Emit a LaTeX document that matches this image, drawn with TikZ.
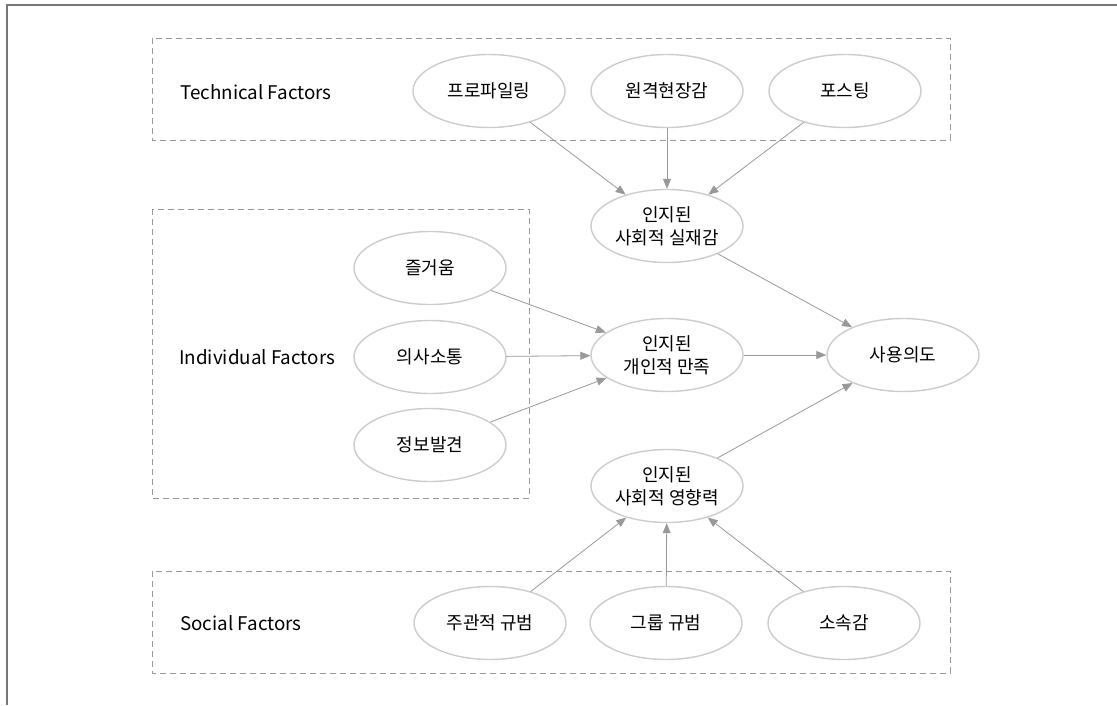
\documentclass[tikz,border=0pt]{standalone}
\usepackage{fontspec}
\setmainfont{Noto Sans CJK KR}
\usetikzlibrary{shapes.geometric, arrows.meta, positioning}
\definecolor{linegray}{HTML}{999999}
\definecolor{ovalgray}{HTML}{CCCCCC}
\definecolor{framegray}{HTML}{777777}

\begin{document}
\begin{tikzpicture}[x=1pt, y=-1pt, ->, >={Triangle[length=10pt,width=8pt]}, semithick, node distance=178pt]
        \tikzstyle{factor}=[ellipse, draw=ovalgray, line width=1.4pt, fill=white, minimum width=152pt, minimum height=73pt, inner sep=0pt, align=center, font=\fontsize{18}{23}\selectfont]
        \tikzstyle{group}=[-, draw=linegray, dash pattern=on 6pt off 4pt, line width=0.9pt]
        \tikzstyle{grouplabel}=[anchor=west, inner sep=0pt, font=\fontsize{18.8}{22}\selectfont]
        \tikzstyle{every edge}=[draw=linegray, line width=0.8pt]
        \useasboundingbox (0,0) rectangle (1117,705);
        % frame
        \draw[-, framegray, line width=1.2pt] (7,705) -- (7,5) -- (1117,5);
        % groups
        \draw[group] (152,38) rectangle (950,140);
        \draw[group] (152,209) rectangle (529,498);
        \draw[group] (152,571) rectangle (950,673);
        \node[grouplabel] (techlabel)  at (180,92)  {Technical Factors};
        \node[grouplabel] (indivlabel) at (179,357) {Individual Factors};
        \node[grouplabel] (sociallabel) at (180,623) {Social Factors};
        % technical factors
        \node[factor]   (profiling) at (489,91)   {프로파일링};
        \node[factor]   (telepresence)[right of=profiling] {원격현장감};
        \node[factor]   (posting)[right of=telepresence]   {포스팅};
        % mediators
        \node[factor]   (presence)[below of=telepresence, node distance=135pt] {인지된\\사회적 실재감};
        \node[factor]   (satisfaction) at (667,355) {인지된\\개인적 만족};
        \node[factor]   (influence) at (667,486) {인지된\\사회적 영향력};
        \node[factor]   (intention)[right of=satisfaction, node distance=236pt] {사용의도};
        % individual factors
        \node[factor]   (fun) at (430,268) {즐거움};
        \node[factor]   (communication)[below of=fun, node distance=89pt] {의사소통};
        \node[factor]   (discovery)[below of=communication, node distance=88pt] {정보발견};
        % social factors
        \node[factor]   (subjnorm) at (490,623) {주관적 규범};
        \node[factor]   (groupnorm)[right of=subjnorm, node distance=176pt] {그룹 규범};
        \node[factor]   (belonging)[right of=groupnorm] {소속감};
        \path
        (profiling) edge (presence)
        (telepresence) edge (presence)
        (posting) edge (presence)
        (fun) edge (satisfaction)
        (communication) edge (satisfaction)
        (discovery) edge (satisfaction)
        (subjnorm) edge (influence)
        (groupnorm) edge (influence)
        (belonging) edge (influence)
        (presence) edge (intention)
        (satisfaction) edge (intention)
        (influence) edge (intention);
      \end{tikzpicture}
\end{document}
